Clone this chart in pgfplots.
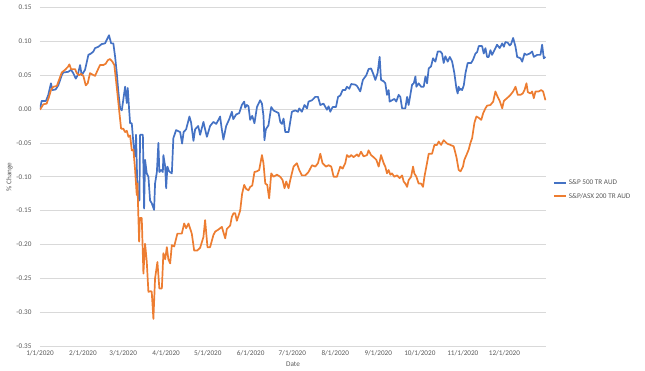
\documentclass[border=0pt]{standalone}
\usepackage{pgfplots}
\pgfplotsset{compat=1.18}
\usepackage{fontspec}
\setmainfont{Carlito}
\definecolor{xblue}{HTML}{4472C4}
\definecolor{xorange}{HTML}{ED7D31}
\definecolor{xgrid}{HTML}{D9D9D9}
\definecolor{xtext}{HTML}{595959}
\begin{document}
\begin{tikzpicture}
\path[use as bounding box] (0,0) rectangle (645pt,371pt);
\begin{axis}[
  at={(40pt,25pt)}, anchor=south west,
  scale only axis, width=506pt, height=338.5pt,
  xmin=0, xmax=365, ymin=-0.35, ymax=0.15,
  axis line style={draw=none},
  major tick length=0pt,
  ytick={-0.35,-0.30,...,0.16},
  ymajorgrids, grid style={xgrid, line width=0.6pt},
  xtick={0,31,60,91,121,152,182,213,244,274,305,335},
  xticklabels={1/1/2020,2/1/2020,3/1/2020,4/1/2020,5/1/2020,6/1/2020,7/1/2020,8/1/2020,9/1/2020,10/1/2020,11/1/2020,12/1/2020},
  /pgf/number format/assume math mode=true,
  yticklabel style={/pgf/number format/fixed, /pgf/number format/fixed zerofill, /pgf/number format/precision=2},
  tick label style={font=\fontsize{7.2}{8.5}\selectfont, text=xtext},
  yticklabel style={xshift=-5pt},
  xticklabel style={yshift=-1pt},
  xlabel={Date}, ylabel={\% Change},
  label style={font=\fontsize{7.2}{8.5}\selectfont, text=xtext},
  xlabel style={yshift=1pt},
  ylabel style={yshift=-3pt},
  legend style={at={(1.014,0.462)}, anchor=west, draw=none, fill=none,
    font=\fontsize{7.2}{8.5}\selectfont, text=xtext, row sep=3pt,
    inner sep=0pt, outer sep=0pt},
  legend cell align=left,
  legend image code/.code={\draw[#1, line width=1.7pt] (0pt,0pt) -- (12pt,0pt);},
  every axis plot/.append style={line width=1.7pt, line join=round},
]
\addplot[xblue, mark=none] coordinates {
(0,0.000)(1.2,0.012)(4.3,0.012)(6.0,0.021)(7.9,0.038)(8.9,0.028)(11.3,0.029)(13.2,0.035)(15.7,0.050)(16.8,0.054)
(20.4,0.055)(22.4,0.058)(24.0,0.053)(25.8,0.045)(27.2,0.050)(28.9,0.065)(30.1,0.050)(32.5,0.058)(34.9,0.080)(36.8,0.082)
(38.5,0.085)(39.7,0.090)(42.1,0.092)(44.5,0.096)(46.9,0.097)(49.8,0.109)(51.3,0.097)(52.9,0.097)(54.2,0.077)(55.4,0.053)
(56.5,0.026)(57.8,0.001)(59.0,-0.002)(61.4,0.033)(62.6,0.009)(63.3,0.031)(64.3,-0.001)(65.0,-0.021)(66.2,-0.021)(67.4,-0.051)
(68.6,-0.070)(69.3,-0.038)(70.3,-0.124)(71.7,-0.135)(72.2,-0.038)(74.2,-0.038)(75.1,-0.147)(75.8,-0.075)(77.0,-0.095)(78.2,-0.100)
(79.4,-0.135)(80.6,-0.139)(82.3,-0.149)(83.0,-0.110)(84.3,-0.093)(85.4,-0.050)(86.1,-0.093)(87.4,-0.090)(88.6,-0.093)(89.0,-0.068)
(90.3,-0.085)(91.0,-0.117)(91.9,-0.085)(93.1,-0.092)(95.1,-0.095)(96.2,-0.043)(98.2,-0.031)(101.1,-0.034)(102.5,-0.051)(103.6,-0.034)
(105.4,-0.030)(107.8,-0.011)(109.0,-0.020)(110.7,-0.047)(111.9,-0.030)(114.1,-0.025)(115.5,-0.038)(117.9,-0.019)(119.1,-0.030)(120.4,-0.041)
(122.7,-0.025)(125.1,-0.019)(127.1,-0.022)(128.7,-0.016)(129.9,-0.011)(131.0,-0.028)(132.3,-0.045)(134.3,-0.025)(136.5,-0.015)(138.4,-0.004)
(139.4,-0.015)(141.5,-0.008)(143.7,-0.006)(145.6,0.006)(147.3,0.011)(148.0,0.002)(149.2,0.006)(150.4,0.004)(151.6,-0.016)(153.1,-0.010)
(154.7,-0.021)(156.5,0.003)(158.8,0.013)(160.1,0.008)(161.2,-0.010)(161.9,-0.046)(162.9,-0.030)(164.8,-0.024)(166.8,0.003)(168.4,-0.002)
(170.2,-0.004)(172.1,-0.006)(173.3,-0.019)(174.5,-0.022)(175.7,-0.014)(176.9,-0.034)(179.3,-0.034)(180.5,-0.019)(181.7,-0.004)(184.1,-0.002)
(186.1,-0.004)(187.0,0.001)(188.9,-0.004)(190.8,0.006)(192.6,0.001)(193.7,0.011)(196.2,0.013)(198.6,0.018)(200.5,0.018)(202.2,0.006)
(204.5,0.008)(207.0,-0.001)(208.2,0.004)(209.4,-0.004)(211.1,0.003)(213.5,0.003)(215.0,0.018)(216.6,0.020)(218.3,0.028)(220.2,0.028)
(221.4,0.033)(223.1,0.030)(224.5,0.037)(227.4,0.036)(228.7,0.034)(231.0,0.026)(232.9,0.043)(235.4,0.050)(237.0,0.059)(238.8,0.060)
(240.2,0.053)(241.9,0.043)(243.5,0.053)(245.0,0.077)(246.0,0.043)(247.9,0.041)(249.1,0.038)(250.3,0.021)(251.5,0.028)(252.2,0.011)
(253.9,0.013)(255.6,0.015)(257.0,0.011)(258.7,0.021)(259.9,0.018)(261.2,0.001)(263.5,0.001)(264.8,0.018)(265.9,0.006)(268.4,0.036)
(269.6,0.038)(270.8,0.048)(271.5,0.033)(273.1,0.038)(274.9,0.033)(276.8,0.033)(278.0,0.048)(279.2,0.038)(280.4,0.060)(282.1,0.063)
(283.5,0.075)(285.2,0.070)(286.9,0.085)(288.8,0.085)(290.0,0.082)(291.2,0.068)(292.4,0.078)(294.1,0.070)(295.6,0.077)(297.3,0.070)
(298.9,0.053)(300.4,0.030)(301.3,0.023)(302.0,0.033)(302.7,0.028)(303.4,0.030)(304.5,0.028)(305.7,0.035)(306.9,0.053)(308.5,0.068)
(311.0,0.068)(312.4,0.073)(314.1,0.082)(315.3,0.084)(316.5,0.093)(318.9,0.093)(320.1,0.082)(321.3,0.090)(322.5,0.077)(323.7,0.077)
(324.9,0.087)(326.1,0.080)(327.3,0.085)(329.7,0.095)(331.6,0.090)(333.4,0.097)(334.6,0.092)(335.7,0.099)(337.4,0.098)(338.8,0.094)
(339.8,0.096)(341.3,0.105)(343.0,0.092)(344.2,0.077)(346.6,0.075)(347.8,0.070)(349.5,0.082)(350.9,0.080)(353.3,0.082)(355.0,0.085)
(356.2,0.077)(358.6,0.080)(361.0,0.080)(362.2,0.095)(363.4,0.075)(364.6,0.077)
};
\addlegendentry{S\&P 500 TR AUD}
\addplot[xorange, mark=none] coordinates {
(0,-0.001)(2.4,0.007)(4.8,0.008)(6.5,0.018)(7.9,0.028)(9.6,0.033)(12.1,0.034)(13.2,0.040)(15.7,0.054)(18.1,0.058)
(20.4,0.063)(21.2,0.066)(22.4,0.059)(25.3,0.059)(26.5,0.053)(28.2,0.050)(29.6,0.052)(31.3,0.049)(33.0,0.035)(34.4,0.038)
(36.1,0.053)(37.8,0.051)(39.7,0.049)(41.7,0.058)(43.3,0.065)(45.7,0.065)(47.4,0.067)(48.9,0.072)(50.5,0.074)(52.2,0.070)
(53.6,0.065)(54.7,0.045)(56.1,0.018)(57.3,-0.006)(58.5,-0.029)(60.1,-0.029)(61.4,-0.034)(62.6,-0.032)(63.8,-0.041)(65.0,-0.039)
(66.2,-0.061)(67.4,-0.060)(68.6,-0.090)(69.8,-0.127)(70.3,-0.110)(71.0,-0.162)(71.5,-0.196)(72.0,-0.161)(73.4,-0.161)(74.6,-0.243)
(75.8,-0.199)(77.0,-0.225)(78.2,-0.270)(79.9,-0.269)(80.6,-0.270)(81.8,-0.310)(83.0,-0.250)(84.7,-0.226)(86.1,-0.265)(87.9,-0.265)
(89.0,-0.213)(90.3,-0.222)(91.5,-0.204)(92.6,-0.222)(93.9,-0.228)(95.1,-0.201)(96.8,-0.203)(99.1,-0.184)(102.3,-0.184)(104.0,-0.169)
(105.4,-0.176)(107.1,-0.169)(109.5,-0.184)(111.2,-0.209)(113.4,-0.209)(115.5,-0.205)(117.9,-0.189)(119.1,-0.164)(120.8,-0.204)(122.7,-0.204)
(125.1,-0.186)(126.4,-0.181)(128.7,-0.178)(131.2,-0.174)(132.3,-0.182)(133.6,-0.191)(134.8,-0.177)(137.2,-0.172)(138.4,-0.159)(139.6,-0.154)
(140.8,-0.154)(142.0,-0.165)(144.4,-0.150)(145.8,-0.125)(147.3,-0.112)(148.7,-0.118)(150.4,-0.120)(151.6,-0.115)(153.1,-0.113)(154.7,-0.093)
(156.5,-0.092)(158.1,-0.090)(160.1,-0.068)(161.2,-0.080)(162.5,-0.110)(163.9,-0.112)(165.3,-0.132)(166.8,-0.095)(168.4,-0.100)(170.9,-0.097)
(173.3,-0.100)(175.0,-0.105)(176.4,-0.117)(177.6,-0.107)(179.3,-0.117)(180.5,-0.105)(182.9,-0.085)(185.3,-0.080)(187.0,-0.090)(188.9,-0.098)
(191.3,-0.098)(193.7,-0.093)(196.2,-0.083)(198.6,-0.085)(200.5,-0.080)(202.2,-0.066)(203.8,-0.080)(206.3,-0.085)(208.2,-0.083)(210.1,-0.085)
(211.8,-0.100)(214.2,-0.100)(216.6,-0.085)(218.3,-0.088)(220.2,-0.080)(221.4,-0.068)(223.1,-0.071)(224.5,-0.068)(226.2,-0.071)(228.7,-0.067)
(229.8,-0.070)(231.6,-0.063)(233.4,-0.070)(235.9,-0.068)(237.0,-0.061)(238.8,-0.068)(240.6,-0.071)(242.6,-0.075)(244.3,-0.085)(246.0,-0.068)
(247.9,-0.080)(249.1,-0.085)(250.3,-0.095)(251.5,-0.090)(252.7,-0.097)(253.9,-0.095)(255.6,-0.100)(257.5,-0.098)(259.4,-0.102)(261.2,-0.098)
(262.3,-0.107)(263.5,-0.110)(264.8,-0.115)(265.9,-0.105)(267.7,-0.100)(269.1,-0.085)(270.0,-0.095)(271.5,-0.100)(273.1,-0.110)(274.9,-0.110)
(276.3,-0.115)(277.3,-0.100)(278.7,-0.085)(280.4,-0.066)(282.8,-0.066)(284.5,-0.053)(286.4,-0.053)(287.6,-0.048)(289.3,-0.053)(291.2,-0.046)
(293.6,-0.051)(296.0,-0.053)(298.4,-0.055)(300.4,-0.071)(302.0,-0.090)(303.4,-0.092)(305.1,-0.085)(306.1,-0.075)(307.6,-0.068)(309.2,-0.060)
(310.5,-0.050)(311.7,-0.043)(313.4,-0.020)(314.8,-0.011)(316.5,-0.013)(318.3,-0.016)(319.7,-0.006)(321.3,0.001)(322.5,0.005)(324.9,0.006)
(326.9,0.011)(328.5,0.026)(329.7,0.020)(331.6,0.012)(333.4,0.001)(334.6,0.012)(335.7,0.014)(337.4,0.017)(339.4,0.021)(341.3,0.026)
(343.0,0.033)(344.6,0.021)(346.6,0.021)(348.2,0.023)(349.5,0.028)(350.9,0.038)(351.9,0.025)(353.8,0.023)(355.0,0.026)(356.2,0.016)
(357.4,0.026)(359.8,0.026)(361.5,0.028)(362.9,0.026)(364.6,0.013)
};
\addlegendentry{S\&P/ASX 200 TR AUD}
\end{axis}
\end{tikzpicture}
\end{document}
